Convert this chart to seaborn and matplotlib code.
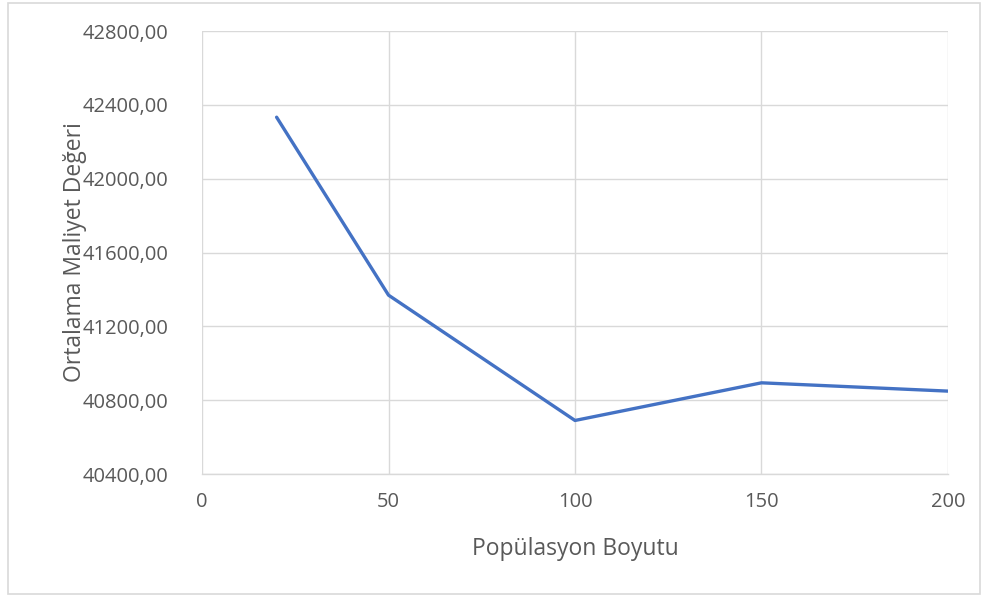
import matplotlib
matplotlib.use("Agg")
import matplotlib.pyplot as plt
import seaborn as sns
import pandas as pd
from matplotlib.patches import Rectangle

# Mean cost for each population size
population_size = [20, 50, 100, 150, 200]
mean_cost = [42333, 41369, 40690, 40894, 40849]

x_ticks = [0, 50, 100, 150, 200]
y_ticks = [40400, 40800, 41200, 41600, 42000, 42400, 42800]

df = pd.DataFrame({"Popülasyon Boyutu": population_size,
                   "Ortalama Maliyet Değeri": mean_cost})

sns.set_theme(style="white")
plt.rcParams["font.family"] = ["Open Sans", "DejaVu Sans"]

fig = plt.figure(figsize=(9.87, 5.98), dpi=100)
ax = fig.add_axes([202 / 987, 1 - 474 / 598, (948 - 202) / 987, (474 - 31) / 598])

# light frame around the whole chart
fig.patches.append(Rectangle((8 / 987, 1 - 594 / 598), (980 - 8) / 987, (594 - 3) / 598,
                             transform=fig.transFigure, fill=False,
                             edgecolor="#D9D9D9", linewidth=1.2))

sns.lineplot(data=df, x="Popülasyon Boyutu", y="Ortalama Maliyet Değeri",
             ax=ax, color="#4472C4", linewidth=2.4)

ax.set_xlim(0, 200)
ax.set_ylim(40400, 42800)
ax.set_xticks(x_ticks)
ax.set_yticks(y_ticks)
ax.set_yticklabels([f"{v},00" for v in y_ticks])
ax.grid(True, color="#D9D9D9", linewidth=1.0)
ax.set_axisbelow(True)
for side in ["top", "right", "left"]:
    ax.spines[side].set_visible(False)
ax.spines["bottom"].set_color("#D9D9D9")
ax.spines["bottom"].set_linewidth(1.0)

ax.tick_params(axis="both", length=0, labelsize=14.5, labelcolor="#595959")
ax.tick_params(axis="y", pad=24)
ax.tick_params(axis="x", pad=13)

ax.set_xlabel("Popülasyon Boyutu", fontsize=16.5, color="#595959", labelpad=18)
ax.set_ylabel("Ortalama Maliyet Değeri", fontsize=16.5, color="#595959", labelpad=-3)

fig.savefig("out.png", dpi=100)
